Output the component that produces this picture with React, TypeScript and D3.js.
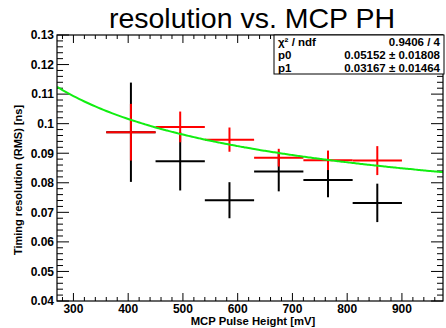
import React from "react";
import * as d3 from "d3";

const xCenters = [405, 495, 585, 675, 765, 855];
const xHalfWidth = [45, 45, 45, 45, 45, 45];
const redY = [0.0971, 0.0989, 0.0946, 0.0885, 0.0876, 0.0875];
const redErr = [0.0096, 0.0052, 0.0041, 0.003, 0.0033, 0.0049];
const blackY = [0.0971, 0.0873, 0.0741, 0.0838, 0.0809, 0.0732];
const blackErr = [0.0168, 0.0099, 0.0061, 0.0067, 0.0058, 0.0065];
const fitP0 = 0.05152;
const fitP1 = 0.03167;
const statsRows = [
  ["\u03c7\u00b2 / ndf", "0.9406 / 4"],
  ["p0", "0.05152 \u00b1 0.01808"],
  ["p1", "0.03167 \u00b1 0.01464"],
];
const xTicks = [300, 400, 500, 600, 700, 800, 900];
const yTicks = [0.04, 0.05, 0.06, 0.07, 0.08, 0.09, 0.1, 0.11, 0.12, 0.13];
const yTickLabels = ["0.04", "0.05", "0.06", "0.07", "0.08", "0.09", "0.1", "0.11", "0.12", "0.13"];

const W = 446, H = 328;
const L = 57, R = 443, T = 35, B = 301;
const FONT = "'Liberation Sans', Arial, Helvetica, sans-serif";

export default function App() {
  const x = d3.scaleLinear().domain([270, 975]).range([L, R]);
  const y = d3.scaleLinear().domain([0.04, 0.13]).range([B, T]);

  const xMinor = d3.range(280, 975, 20);
  const yMinor = d3.range(0, 46).map((i) => 0.04 + i * 0.002);

  const fitX = d3.range(270, 975.1, 5);
  const fitLine = d3
    .line<number>()
    .x((d) => x(d))
    .y((d) => y(fitP0 + fitP1 / Math.sqrt(d / 1000)))
    .curve(d3.curveMonotoneX);

  const isMajorX = (v: number) => Math.abs(v % 100) < 1e-6;
  const isMajorY = (v: number) => Math.abs(Math.round(v * 100) - v * 100) < 1e-6;

  const errBars = (ys: number[], errs: number[], color: string, key: string) =>
    xCenters.map((xc, i) => (
      <g key={key + i} stroke={color} strokeWidth={2}>
        <line x1={x(xc - xHalfWidth[i])} x2={x(xc + xHalfWidth[i])} y1={y(ys[i])} y2={y(ys[i])} />
        <line x1={x(xc)} x2={x(xc)} y1={y(ys[i] - errs[i])} y2={y(ys[i] + errs[i])} />
      </g>
    ));

  return (
    <svg width={W} height={H} style={{ position: "fixed", left: 0, top: 0, background: "#fff" }}>
      <rect x={0} y={0} width={W} height={H} fill="#fff" />
      <defs>
        <clipPath id="frame">
          <rect x={L} y={T} width={R - L} height={B - T} />
        </clipPath>
      </defs>

      {/* ticks */}
      <g stroke="#000" strokeWidth={1}>
        {xMinor.map((v) => {
          const len = isMajorX(v) ? 8 : 4;
          return (
            <g key={"xt" + v}>
              <line x1={x(v)} x2={x(v)} y1={B} y2={B - len} />
              <line x1={x(v)} x2={x(v)} y1={T} y2={T + len} />
            </g>
          );
        })}
        {yMinor.map((v) => {
          const len = isMajorY(v) ? 12 : 6;
          return (
            <g key={"yt" + v}>
              <line x1={L} x2={L + len} y1={y(v)} y2={y(v)} />
              <line x1={R} x2={R - len} y1={y(v)} y2={y(v)} />
            </g>
          );
        })}
      </g>

      {/* data */}
      <g clipPath="url(#frame)">
        {errBars(blackY, blackErr, "#000", "b")}
        {errBars(redY, redErr, "#ff0000", "r")}
        <path d={fitLine(fitX) || ""} fill="none" stroke="#11ee11" strokeWidth={2} />
      </g>

      {/* frame */}
      <rect x={L} y={T} width={R - L} height={B - T} fill="none" stroke="#000" strokeWidth={1.2} />

      {/* tick labels */}
      <g fontFamily={FONT} fontWeight="bold" fontSize={12} fill="#000">
        {yTicks.map((v, i) => (
          <text key={"yl" + v} x={54} y={y(v) + 4.3} textAnchor="end">
            {yTickLabels[i]}
          </text>
        ))}
        {xTicks.map((v) => (
          <text key={"xl" + v} x={x(v)} y={312.5} textAnchor="middle">
            {v}
          </text>
        ))}
      </g>

      {/* axis titles */}
      <text x={253} y={325.2} textAnchor="middle" fontFamily={FONT} fontWeight="bold" fontSize={11.3}>
        MCP Pulse Height [mV]
      </text>
      <text
        transform="translate(21.5,180) rotate(-90)"
        textAnchor="middle"
        fontFamily={FONT}
        fontWeight="bold"
        fontSize={11}
      >
        Timing resolution (RMS) [ns]
      </text>

      {/* title */}
      <text x={252} y={28} textAnchor="middle" fontFamily={FONT} fontSize={28.5} fill="#000">
        resolution vs. MCP PH
      </text>

      {/* stats box */}
      <rect x={274} y={T} width={170} height={39} fill="#fff" stroke="#000" strokeWidth={1} />
      <g fontFamily={FONT} fontWeight="bold" fontSize={11.5}>
        {statsRows.map((r, i) => (
          <g key={"s" + i}>
            <text x={278} y={45.5 + i * 13}>{r[0]}</text>
            <text x={440} y={45.5 + i * 13} textAnchor="end">{r[1]}</text>
          </g>
        ))}
      </g>
    </svg>
  );
}
